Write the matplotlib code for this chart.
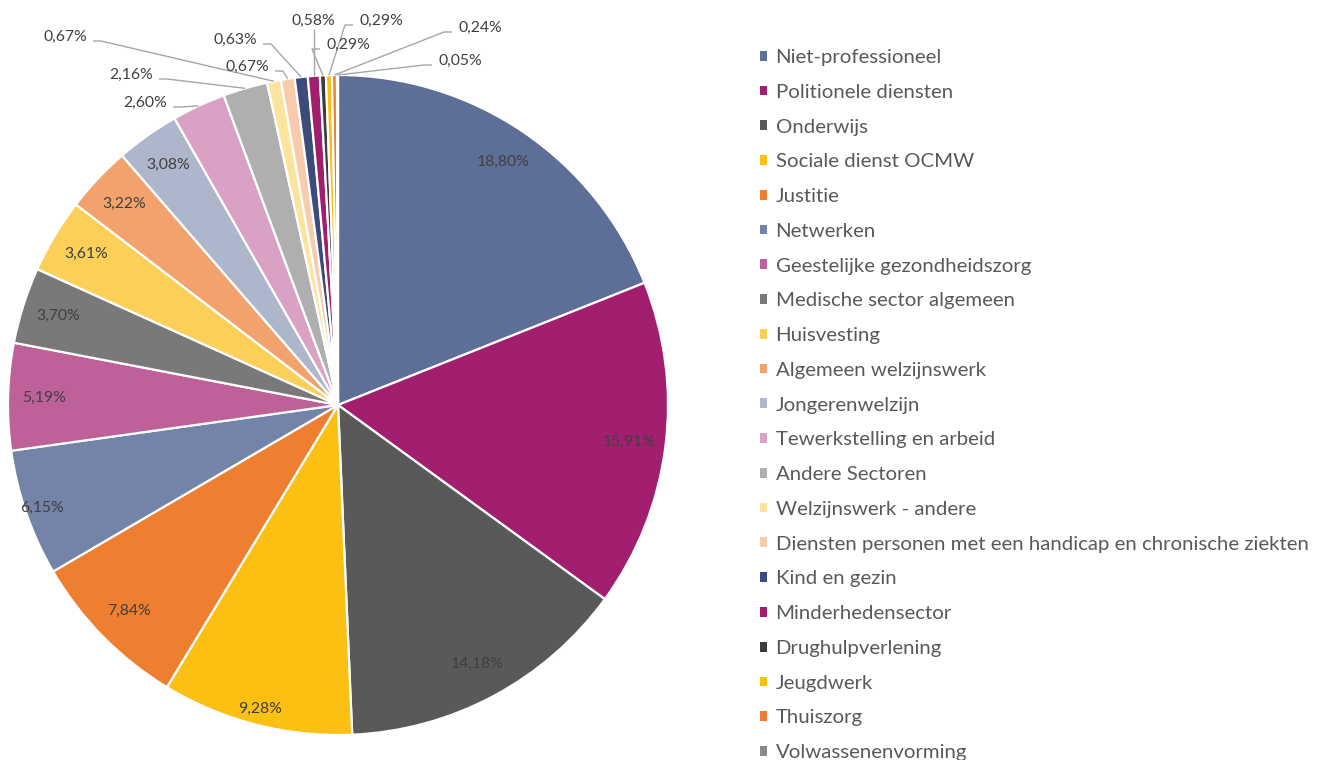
import matplotlib.pyplot as plt
import numpy as np

sectors = ["Niet-professioneel", "Politionele diensten", "Onderwijs", "Sociale dienst OCMW",
           "Justitie", "Netwerken", "Geestelijke gezondheidszorg", "Medische sector algemeen",
           "Huisvesting", "Algemeen welzijnswerk", "Jongerenwelzijn", "Tewerkstelling en arbeid",
           "Andere Sectoren", "Welzijnswerk - andere",
           "Diensten personen met een handicap en chronische ziekten", "Kind en gezin",
           "Minderhedensector", "Drughulpverlening", "Jeugdwerk", "Thuiszorg", "Volwassenenvorming"]
percent = [18.80, 15.91, 14.18, 9.28, 7.84, 6.15, 5.19, 3.70, 3.61, 3.22, 3.08, 2.60,
           2.16, 0.67, 0.67, 0.63, 0.58, 0.29, 0.29, 0.24, 0.05]
colors = ["#5E6F97", "#A21F6F", "#595959", "#FBC012", "#EE7E30", "#7483A8", "#BD6198",
          "#797979", "#FCCF58", "#F2A26C", "#ADB6CA", "#D9A2C4", "#AFAFAF", "#FDE49E",
          "#F8CBAD", "#3A4B7C", "#A01F6D", "#3C3C3C", "#FCBF10", "#EE7D31", "#898989"]

# outside labels (slices 11..20): text centre in pixels (x, y from top)
outside_pos = {11: (145, 103), 12: (131, 75), 13: (65, 37), 14: (247, 67), 15: (235, 40),
               16: (313, 21), 17: (348, 45), 18: (381, 21), 19: (480, 28), 20: (460, 61)}

W, H = 1327, 760
cx, cy, R = 338, H - 405, 330

plt.rcParams['font.family'] = ['Lato', 'DejaVu Sans']
fig = plt.figure(figsize=(W / 100, H / 100), dpi=100)
ax = fig.add_axes([0, 0, 1, 1])

wedges, _ = ax.pie(percent, colors=colors, startangle=90, counterclock=False,
                   center=(cx, cy), radius=R, frame=True,
                   wedgeprops=dict(edgecolor='white', linewidth=1.6))
ax.set_xlim(0, W)
ax.set_ylim(0, H)
ax.set_aspect('equal')
ax.axis('off')

label_col = '#404040'
for i, (w, p) in enumerate(zip(wedges, percent)):
    mid = np.deg2rad((w.theta1 + w.theta2) / 2)
    txt = f"{p:.2f}%".replace('.', ',')
    if i < 11:
        r = 0.95 * R if i in (3, 5) else 0.89 * R
        ax.text(cx + r * np.cos(mid), cy + r * np.sin(mid), txt, ha='center', va='center',
                fontsize=11.3, color=label_col)
    else:
        tx, ty = outside_pos[i]
        ty = H - ty
        ax.text(tx, ty, txt, ha='center', va='center', fontsize=11.3, color=label_col)
        px, py = cx + R * np.cos(mid), cy + R * np.sin(mid)
        half = 25
        if abs(px - tx) < 8:
            xs, ys = [px, px], [ty - 8, py]
        elif px > tx:
            sx = tx + half + 3
            xs, ys = [sx, sx + 8, px], [ty - 4, ty - 4, py]
        else:
            sx = tx - half - 3
            xs, ys = [sx, sx - 8, px], [ty - 4, ty - 4, py]
        ax.plot(xs, ys, color='#A6A6A6', lw=1.0, solid_capstyle='butt')

leg = ax.legend(wedges, sectors, loc='upper left', bbox_to_anchor=(760 / W, 1 - 49 / H),
                bbox_transform=fig.transFigure, frameon=False, fontsize=14.7,
                handlelength=0.36, handleheight=0.36, handletextpad=0.4,
                labelspacing=0.87, borderaxespad=0, borderpad=0)
for t in leg.get_texts():
    t.set_color('#595959')
for h in leg.legend_handles:
    h.set_edgecolor('none')

fig.savefig('out.png', dpi=100)
